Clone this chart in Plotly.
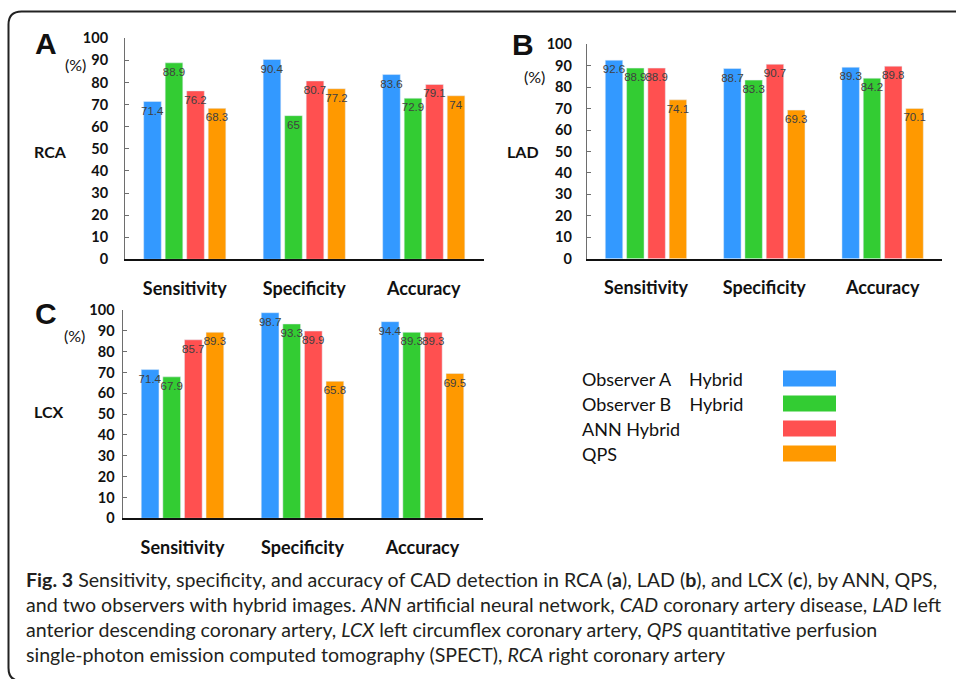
import plotly.graph_objects as go

W, H = 956, 679

# ---- data -------------------------------------------------------------
metrics = ["Sensitivity", "Specificity", "Accuracy"]
series_names = ["Observer A\u00a0\u00a0\u00a0\u00a0Hybrid", "Observer B\u00a0\u00a0\u00a0\u00a0Hybrid",
                "ANN Hybrid", "QPS"]
series_colors = ["#3399FF", "#33CC33", "#FF5050", "#FF9900"]

rca_observer_a = [71.4, 90.4, 83.6]
rca_observer_b = [88.9, 65, 72.9]
rca_ann = [76.2, 80.7, 79.1]
rca_qps = [68.3, 77.2, 74]

lad_observer_a = [92.6, 88.7, 89.3]
lad_observer_b = [88.9, 83.3, 84.2]
lad_ann = [88.9, 90.7, 89.8]
lad_qps = [74.1, 69.3, 70.1]

lcx_observer_a = [71.4, 98.7, 94.4]
lcx_observer_b = [67.9, 93.3, 89.3]
lcx_ann = [85.7, 89.9, 89.3]
lcx_qps = [89.3, 65.8, 69.5]

y_ticks = list(range(0, 101, 10))

caption_lines = [
    "<b>Fig. 3</b> Sensitivity, specificity, and accuracy of CAD detection in RCA (<b>a</b>), "
    "LAD (<b>b</b>), and LCX (<b>c</b>), by ANN, QPS,",
    "and two observers with hybrid images. <i>ANN</i> artificial neural network, "
    "<i>CAD</i> coronary artery disease, <i>LAD</i> left",
    "anterior descending coronary artery, <i>LCX</i> left circumflex coronary artery, "
    "<i>QPS</i> quantitative perfusion",
    "single-photon emission computed tomography (SPECT), <i>RCA</i> right coronary artery",
]


def px(x):
    return x / W


def py(y):
    return 1 - y / H


# panel layout in pixels: plot box, label positions, tick label standoff
panels = [
    dict(letter="A", region="RCA", series=[rca_observer_a, rca_observer_b, rca_ann, rca_qps],
         x0=125, x1=483.5, y0=259.3, y1=38.3, standoff=13,
         letter_xy=(46, 44), pct_xy=(75, 64), region_xy=(50.5, 151.5)),
    dict(letter="B", region="LAD", series=[lad_observer_a, lad_observer_b, lad_ann, lad_qps],
         x0=586.8, x1=941.8, y0=258.7, y1=44.3, standoff=11,
         letter_xy=(522.5, 44.7), pct_xy=(534, 76.5), region_xy=(523, 151.5)),
    dict(letter="C", region="LCX", series=[lcx_observer_a, lcx_observer_b, lcx_ann, lcx_qps],
         x0=122.5, x1=482.5, y0=518.3, y1=310, standoff=4,
         letter_xy=(46, 313), pct_xy=(74, 335.5), region_xy=(48.7, 411.5)),
]

fig = go.Figure()
annotations = []
shapes = []

for i, p in enumerate(panels):
    suffix = "" if i == 0 else str(i + 1)
    xa, ya = "x" + suffix, "y" + suffix
    for name, color, vals in zip(series_names, series_colors, p["series"]):
        fig.add_trace(go.Bar(
            x=metrics, y=vals, name=name, marker_color=color,
            text=[f"{v:g}" for v in vals],
            textposition="inside", insidetextanchor="end", textangle=0,
            constraintext="none",
            textfont=dict(family="Liberation Sans", size=11.5, color="#404040"),
            xaxis=xa, yaxis=ya, showlegend=False,
        ))
    fig.update_layout({
        "xaxis" + suffix: dict(
            domain=[px(p["x0"]), px(p["x1"])], anchor=ya, automargin=False,
            showline=True, linecolor="#111111", linewidth=2,
            ticks="", showgrid=False, zeroline=False, fixedrange=True,
            tickfont=dict(family="Lato", size=18, color="#111111", weight=700),
            ticklabelstandoff=12,
        ),
        "yaxis" + suffix: dict(
            domain=[py(p["y0"]), py(p["y1"])], anchor=xa, automargin=False,
            range=[0, 100], tickvals=y_ticks,
            showline=True, linecolor="#6e6e6e", linewidth=1,
            ticks="inside", ticklen=4, tickcolor="#6e6e6e",
            showgrid=False, zeroline=False, fixedrange=True,
            tickfont=dict(family="Lato", size=14.5, color="#111111", weight=700),
            ticklabelstandoff=p["standoff"],
        ),
    })
    lx, ly = p["letter_xy"]
    annotations.append(dict(x=px(lx), y=py(ly), text=p["letter"], showarrow=False,
                            xref="paper", yref="paper", xanchor="center", yanchor="middle",
                            font=dict(family="Liberation Sans", size=30, color="#111111", weight=700)))
    cx, cy = p["pct_xy"]
    annotations.append(dict(x=px(cx), y=py(cy), text="(%)", showarrow=False,
                            xref="paper", yref="paper", xanchor="center", yanchor="middle",
                            font=dict(family="Lato", size=16, color="#111111")))
    rx, ry = p["region_xy"]
    annotations.append(dict(x=px(rx), y=py(ry), text=p["region"], showarrow=False,
                            xref="paper", yref="paper", xanchor="center", yanchor="middle",
                            font=dict(family="Lato", size=16, color="#111111", weight=700)))

# legend: names on the left, colour swatches on the right
legend_rows = [378.5, 403.5, 428.5, 453.5]
for name, color, row in zip(series_names, series_colors, legend_rows):
    annotations.append(dict(x=px(580), y=py(row), text=name, showarrow=False,
                            xref="paper", yref="paper", xanchor="left", yanchor="middle",
                            font=dict(family="Lato", size=18, color="#111111")))
    shapes.append(dict(type="rect", xref="paper", yref="paper",
                       x0=px(783), x1=px(836), y0=py(row + 8), y1=py(row - 8),
                       fillcolor=color, line=dict(width=0)))

# caption
caption_rows = [579, 604, 629, 654]
for line, row in zip(caption_lines, caption_rows):
    annotations.append(dict(x=px(24), y=py(row), text=line, showarrow=False,
                            xref="paper", yref="paper", xanchor="left", yanchor="middle",
                            font=dict(family="Lato", size=19.6, color="#231f20")))

# rounded frame around the figure
r = 13
L, T, R, B = 8.5, 11.5, 962, 681
frame = (f"M {px(R)} {py(B)} L {px(L + r)} {py(B)} "
         f"Q {px(L)} {py(B)} {px(L)} {py(B - r)} "
         f"L {px(L)} {py(T + r)} "
         f"Q {px(L)} {py(T)} {px(L + r)} {py(T)} "
         f"L {px(R)} {py(T)}")
shapes.append(dict(type="path", xref="paper", yref="paper", path=frame,
                   line=dict(color="#222222", width=2)))

fig.update_layout(
    width=W, height=H, margin=dict(l=0, r=0, t=0, b=0, autoexpand=False),
    paper_bgcolor="white", plot_bgcolor="white",
    barmode="group", bargap=0.28, bargroupgap=0.18,
    showlegend=False, annotations=annotations, shapes=shapes,
)

fig.write_html("out.html")
